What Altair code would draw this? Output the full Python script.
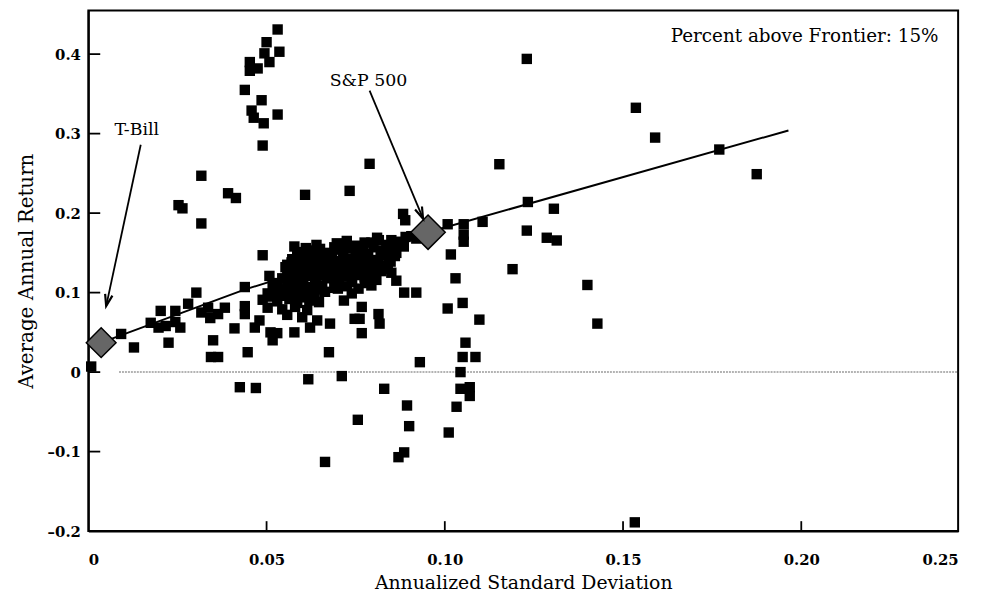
import altair as alt
import pandas as pd

# ---------------- data ----------------
# scattered squares (annualized std. dev., average annual return)
sd_scatter = [
    # top cluster
    0.0531, 0.0500, 0.0536, 0.0494, 0.0508, 0.0453, 0.0453, 0.0475, 0.0439, 0.0486, 0.0531, 0.0458, 0.0464, 0.0492, 0.0489,
    # upper middle
    0.0317, 0.0392, 0.0414, 0.0608, 0.0733, 0.0789, 0.0253, 0.0264, 0.0317, 0.0883, 0.0889, 0.0489, 0.0578, 0.0508, 0.0553, 0.0439, 0.0303, 0.0280,
    # left, near the frontier
    0.0008, 0.0092, 0.0128, 0.0175, 0.0197, 0.0217, 0.0244, 0.0258, 0.0203, 0.0244, 0.0225,
    0.0317, 0.0342, 0.0364, 0.0383, 0.0336,
    0.0350, 0.0344, 0.0364, 0.0410, 0.0439, 0.0439, 0.0447, 0.0467, 0.0480,
    0.0511, 0.0530, 0.0517, 0.0578, 0.0622, 0.0642, 0.0678, 0.0675,
    0.0767, 0.0747, 0.0761, 0.0814, 0.0817, 0.0767, 0.0864, 0.0886, 0.0920, 0.0692, 0.0717,
    # near zero / negative
    0.0425, 0.0470, 0.0617, 0.0711, 0.0830, 0.0894, 0.0756, 0.0900, 0.0886, 0.0870, 0.0664, 0.0930,
    # right of S&P 500
    0.1008, 0.1053, 0.1053, 0.1053, 0.1106, 0.1017, 0.1030, 0.1190, 0.1153, 0.1233, 0.1230, 0.1306, 0.1286, 0.1314,
    0.1230, 0.1536, 0.1590, 0.1770, 0.1875,
    0.1400, 0.1428, 0.1050, 0.1008, 0.1097, 0.1058, 0.1050, 0.1086, 0.1044, 0.1044, 0.1070, 0.1070, 0.1033, 0.1011, 0.1533,
    0.0906, 0.0864,
]
ret_scatter = [
    0.431, 0.415, 0.403, 0.401, 0.390, 0.390, 0.379, 0.382, 0.355, 0.342, 0.324, 0.329, 0.320, 0.313, 0.285,
    0.247, 0.225, 0.219, 0.223, 0.228, 0.262, 0.210, 0.206, 0.187, 0.199, 0.191, 0.147, 0.158, 0.121, 0.132, 0.107, 0.100, 0.086,
    0.007, 0.048, 0.031, 0.062, 0.056, 0.058, 0.063, 0.056, 0.077, 0.077, 0.037,
    0.075, 0.068, 0.073, 0.081, 0.081,
    0.040, 0.019, 0.019, 0.055, 0.083, 0.073, 0.025, 0.056, 0.065,
    0.050, 0.049, 0.040, 0.050, 0.056, 0.065, 0.061, 0.025,
    0.049, 0.067, 0.067, 0.073, 0.061, 0.082, 0.115, 0.100, 0.100, 0.106, 0.090,
    -0.019, -0.020, -0.009, -0.005, -0.021, -0.042, -0.060, -0.068, -0.101, -0.107, -0.113, 0.0125,
    0.186, 0.186, 0.173, 0.164, 0.189, 0.148, 0.118, 0.1295, 0.2615, 0.214, 0.178, 0.2055, 0.169, 0.1656,
    0.394, 0.3325, 0.295, 0.280, 0.249,
    0.1096, 0.061, 0.087, 0.080, 0.066, 0.037, 0.019, 0.019, 0.000, -0.021, -0.019, -0.030, -0.0436, -0.076, -0.189,
    0.171, 0.164,
]
# dense core of the cloud
sd_core = [
    0.0810, 0.0850, 0.0890,
    0.0640, 0.0697, 0.0753, 0.0794, 0.0836,
    0.0586, 0.0628, 0.0670, 0.0711, 0.0753, 0.0780, 0.0822, 0.0864,
    0.0572, 0.0600, 0.0636, 0.0664, 0.0697, 0.0730, 0.0767, 0.0803, 0.0842,
    0.0558, 0.0586, 0.0620, 0.0656, 0.0689, 0.0725, 0.0758, 0.0794, 0.0830,
    0.0586, 0.0614, 0.0647, 0.0683, 0.0719, 0.0753, 0.0786, 0.0822, 0.0850,
    0.0544, 0.0572, 0.0600, 0.0636, 0.0669, 0.0703, 0.0739, 0.0775, 0.0808,
    0.0517, 0.0558, 0.0586, 0.0620, 0.0656, 0.0725, 0.0758, 0.0794,
    0.0503, 0.0536, 0.0572, 0.0600, 0.0628, 0.0664, 0.0739,
    0.0489, 0.0530, 0.0564, 0.0586, 0.0620, 0.0647,
    0.0503, 0.0544, 0.0580, 0.0614,
    0.0558, 0.0600,
    # in-between squares of the solid core
    0.0725, 0.0775, 0.0815, 0.0870, 0.0920,
    0.0610, 0.0650, 0.0690, 0.0735, 0.0770, 0.0800, 0.0845, 0.0885,
    0.0590, 0.0618, 0.0650, 0.0683, 0.0715, 0.0750, 0.0785, 0.0820, 0.0860,
    0.0570, 0.0603, 0.0638, 0.0672, 0.0707, 0.0742, 0.0776, 0.0812, 0.0848,
    0.0572, 0.0600, 0.0632, 0.0668, 0.0704, 0.0740, 0.0770, 0.0806, 0.0840,
    0.0558, 0.0592, 0.0625, 0.0660, 0.0695, 0.0730, 0.0765, 0.0800,
    0.0530, 0.0572, 0.0603, 0.0638, 0.0690, 0.0740, 0.0776,
    0.0520, 0.0550, 0.0590, 0.0640, 0.0700,
    0.0510, 0.0550, 0.0600, 0.0635,
]
ret_core = [
    0.169, 0.166, 0.170,
    0.160, 0.162, 0.159, 0.163, 0.160,
    0.151, 0.153, 0.150, 0.154, 0.151, 0.148, 0.153, 0.150,
    0.142, 0.145, 0.141, 0.144, 0.140, 0.143, 0.146, 0.141, 0.144,
    0.135, 0.132, 0.136, 0.133, 0.131, 0.135, 0.137, 0.132, 0.134,
    0.124, 0.127, 0.125, 0.128, 0.123, 0.126, 0.124, 0.127, 0.125,
    0.118, 0.115, 0.119, 0.116, 0.118, 0.114, 0.117, 0.119, 0.116,
    0.109, 0.106, 0.110, 0.107, 0.109, 0.108, 0.105, 0.109,
    0.099, 0.101, 0.098, 0.100, 0.097, 0.101, 0.099,
    0.091, 0.089, 0.092, 0.087, 0.090, 0.088,
    0.081, 0.079, 0.082, 0.078,
    0.072, 0.069,
    0.165, 0.163, 0.166, 0.162, 0.168,
    0.156, 0.155, 0.157, 0.156, 0.155, 0.157, 0.156, 0.158,
    0.147, 0.148, 0.146, 0.148, 0.147, 0.146, 0.149, 0.147, 0.146,
    0.138, 0.139, 0.137, 0.139, 0.138, 0.139, 0.140, 0.137, 0.139,
    0.130, 0.129, 0.130, 0.131, 0.129, 0.130, 0.129, 0.131, 0.130,
    0.121, 0.122, 0.121, 0.122, 0.120, 0.121, 0.122, 0.121,
    0.112, 0.113, 0.112, 0.113, 0.112, 0.113, 0.112,
    0.104, 0.104, 0.103, 0.104, 0.105,
    0.095, 0.096, 0.094, 0.095,
]

# efficient frontier line
frontier_sd = [0.0036, 0.0440, 0.0953, 0.1964]
frontier_ret = [0.037, 0.104, 0.176, 0.304]

# benchmark diamonds
bench_name = ["T-Bill", "S&P 500"]
bench_sd = [0.0036, 0.0953]
bench_ret = [0.037, 0.176]
bench_size = [900, 1200]

# annotation arrows
arrow_sd0 = [0.0147, 0.0789]
arrow_ret0 = [0.286, 0.354]
arrow_sd1 = [0.0050, 0.0939]
arrow_ret1 = [0.083, 0.193]
arrow_angle = [193, 157]

# annotation texts
label_text = ["T-Bill", "S&P 500"]
label_sd = [0.0136, 0.0786]
label_ret = [0.304, 0.366]

note_text = ["Percent above Frontier: 15%"]
note_sd = [0.2385]
note_ret = [0.423]

X_MIN, X_MAX = 0.0, 0.244
Y_MIN, Y_MAX = -0.2, 0.455
y_tick_values = [0.4, 0.3, 0.2, 0.1, 0, -0.1, -0.2]
x_tick_values = [0, 0.05, 0.10, 0.15, 0.20, 0.244]
inner_y_ticks = [0.4, 0.3, 0.2, 0.1, 0, -0.1]
inner_x_ticks = [0.05, 0.10, 0.15, 0.20]

# ---------------- chart ----------------
W, H = 877, 525
SERIF = "DejaVu Serif"

xs = alt.Scale(domain=[X_MIN, X_MAX], nice=False, zero=False)
ys = alt.Scale(domain=[Y_MIN, Y_MAX], nice=False, zero=False)

# inward tick length in data units (about 12 px and 10 px)
y_tick_len = 12 * (X_MAX - X_MIN) / W
x_tick_len = 10 * (Y_MAX - Y_MIN) / H

x_axis = alt.Axis(
    values=x_tick_values,
    labelExpr="datum.value == 0 ? '0' : (datum.value > 0.24 ? '0.25' : format(datum.value, '.2f'))",
    tickSize=0, grid=False, domainColor="black", domainWidth=2,
    labelFont=SERIF, labelFontWeight="bold", labelFontSize=15, labelColor="black",
    labelPadding=22, labelFlush=True, labelOverlap=False,
    title="Annualized Standard Deviation", titleFont=SERIF, titleFontSize=19,
    titleFontWeight="normal", titleColor="black", titlePadding=6,
)
y_axis = alt.Axis(
    values=y_tick_values,
    labelExpr="datum.value == 0 ? '0' : (datum.value < 0 ? '–' + format(-datum.value, '.1f') : format(datum.value, '.1f'))",
    tickSize=0, grid=False, domainColor="black", domainWidth=2,
    labelFont=SERIF, labelFontWeight="bold", labelFontSize=15, labelColor="black",
    labelPadding=8, labelOverlap=False,
    title="Average Annual Return", titleFont=SERIF, titleFontSize=20,
    titleFontWeight="normal", titleColor="black", titlePadding=11,
)


def X(f):
    return alt.X(f, type="quantitative", scale=xs, axis=x_axis)


def Y(f):
    return alt.Y(f, type="quantitative", scale=ys, axis=y_axis)


pts = pd.DataFrame({"sd": sd_scatter + sd_core, "ret": ret_scatter + ret_core})
front = pd.DataFrame({"sd": frontier_sd, "ret": frontier_ret})
bench = pd.DataFrame({"name": bench_name, "sd": bench_sd, "ret": bench_ret, "size": bench_size})
arrows = pd.DataFrame({"sd": arrow_sd0, "ret": arrow_ret0, "sd2": arrow_sd1, "ret2": arrow_ret1, "ang": arrow_angle})
labels = pd.DataFrame({"text": label_text, "sd": label_sd, "ret": label_ret})
note = pd.DataFrame({"text": note_text, "sd": note_sd, "ret": note_ret})
zero = pd.DataFrame({"sd": [0.0086], "sd2": [X_MAX], "ret": [0.0]})
yt = pd.DataFrame({"ret": inner_y_ticks})
yt["sd"] = X_MIN
yt["sd2"] = X_MIN + y_tick_len
xt = pd.DataFrame({"sd": inner_x_ticks})
xt["ret"] = Y_MIN
xt["ret2"] = Y_MIN + x_tick_len

zero_line = alt.Chart(zero).mark_rule(color="#9a9a9a", strokeWidth=1.5, strokeDash=[2, 1]).encode(
    x=X("sd"), x2="sd2", y=Y("ret"))

frontier = alt.Chart(front).mark_line(color="black", strokeWidth=2).encode(
    x=X("sd"), y=Y("ret"), order="sd:Q")

squares = alt.Chart(pts).mark_square(size=110, color="black", opacity=1).encode(
    x=X("sd"), y=Y("ret"))

diamonds = alt.Chart(bench).mark_point(
    shape="diamond", filled=True, fill="#666666", stroke="black", strokeWidth=1.5, opacity=1
).encode(x=X("sd"), y=Y("ret"), size=alt.Size("size:Q", scale=None, legend=None))

arrow_lines = alt.Chart(arrows).mark_rule(color="black", strokeWidth=1.8).encode(
    x=X("sd"), y=Y("ret"), x2="sd2", y2="ret2")

arrow_heads = alt.Chart(arrows).mark_point(
    shape="M-0.45,1.4L0,0L0.45,1.4", filled=False, stroke="black", strokeWidth=2.2, size=280, opacity=1
).encode(x=X("sd2"), y=Y("ret2"), angle=alt.Angle("ang:Q", scale=None))

label_marks = alt.Chart(labels).mark_text(
    font=SERIF, fontSize=17.5, color="black", align="center", baseline="middle"
).encode(x=X("sd"), y=Y("ret"), text="text:N")

note_mark = alt.Chart(note).mark_text(
    font=SERIF, fontSize=18.5, color="black", align="right", baseline="middle"
).encode(x=X("sd"), y=Y("ret"), text="text:N")

y_ticks = alt.Chart(yt).mark_rule(color="black", strokeWidth=1.8).encode(
    y=Y("ret"), x=X("sd"), x2="sd2")

x_ticks = alt.Chart(xt).mark_rule(color="black", strokeWidth=1.8).encode(
    x=X("sd"), y=Y("ret"), y2="ret2")

chart = alt.layer(
    zero_line, frontier, squares, diamonds, arrow_lines, arrow_heads,
    label_marks, note_mark, y_ticks, x_ticks
).properties(
    width=W, height=H,
    padding={"left": 81, "top": 0, "right": 15, "bottom": 60},
    autosize=alt.AutoSizeParams(type="none"),
    background="white",
).configure_view(stroke="black", strokeWidth=2)

chart.save("out.html", embed_options={"renderer": "svg", "actions": False})
